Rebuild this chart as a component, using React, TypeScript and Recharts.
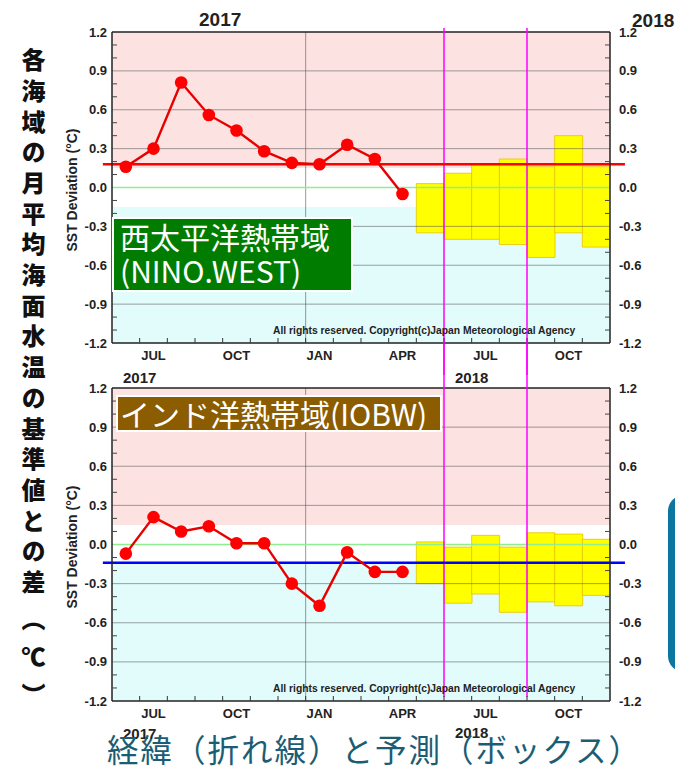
import React from 'react';
import { ComposedChart, Bar, Line, XAxis, YAxis, ReferenceLine, ReferenceArea } from 'recharts';

// month slots on the x axis: Jun 2017 .. Nov 2018
const months = ['JUN', 'JUL', 'AUG', 'SEP', 'OCT', 'NOV', 'DEC', 'JAN', 'FEB', 'MAR', 'APR', 'MAY', 'JUN', 'JUL', 'AUG', 'SEP', 'OCT', 'NOV'];
const labelledMonths = ['JUL', 'OCT', 'JAN', 'APR'];
const yMajor = [-1.2, -0.9, -0.6, -0.3, 0, 0.3, 0.6, 0.9, 1.2];
const yMinor = [-1.1, -1.0, -0.8, -0.7, -0.5, -0.4, -0.2, -0.1, 0.1, 0.2, 0.4, 0.5, 0.7, 0.8, 1.0, 1.1];
const gridY = [-0.9, -0.6, -0.3, 0.3, 0.6, 0.9];

// NINO.WEST observed (Jun 2017 - Apr 2018) and forecast boxes (May - Nov 2018)
const westObs = [0.16, 0.30, 0.81, 0.56, 0.44, 0.28, 0.19, 0.18, 0.33, 0.22, -0.05];
const westHigh = [0.03, 0.11, 0.18, 0.22, 0.16, 0.40, 0.16];
const westLow = [-0.35, -0.40, -0.40, -0.44, -0.54, -0.35, -0.46];
const westNormal = 0.18;

// IOBW
const iobwObs = [-0.07, 0.21, 0.10, 0.14, 0.01, 0.01, -0.30, -0.47, -0.06, -0.21, -0.21];
const iobwHigh = [0.02, -0.02, 0.07, -0.02, 0.09, 0.08, 0.04];
const iobwLow = [-0.30, -0.45, -0.38, -0.52, -0.44, -0.47, -0.39];
const iobwNormal = -0.14;

const firstForecast = 11; // MAY 2018
const forecastMarks = [12, 15]; // month boundaries with magenta lines
const band = 0.15; // normal band limits

const xTicks = Array.from({ length: months.length * 2 + 1 }, (_, k) => k / 2);
const yTicks = [...yMajor, ...yMinor];

const buildRows = (obs: number[], low: number[], high: number[]) =>
  months.map((m, i) => ({
    x: i + 0.5,
    obs: i < obs.length ? obs[i] : null,
    box: i >= firstForecast ? [low[i - firstForecast], high[i - firstForecast]] : null,
  }));

const AX = '"Liberation Sans", Arial, sans-serif';
const JP = '"Noto Sans CJK JP", "Noto Sans", sans-serif';

const isMajor = (v: number) => Math.abs(Math.round(v * 10)) % 3 === 0;

const XTick = ({ x, y, payload }: any) => {
  const v = payload.value;
  if (Number.isInteger(v)) {
    if (v === 0 || v === months.length) return <g />;
    return <line x1={x} x2={x} y1={y} y2={y - 5} stroke="#333" strokeWidth={1} />;
  }
  const name = months[Math.floor(v)];
  if (!labelledMonths.includes(name)) return <g />;
  return (
    <text x={x} y={y + 17} textAnchor="middle" fontSize={13} fontWeight="bold" fill="#222" fontFamily={AX}>
      {name}
    </text>
  );
};

const LeftTick = ({ x, y, payload }: any) => {
  const v = payload.value;
  if (isMajor(v))
    return (
      <text x={x - 5} y={y + 4.5} textAnchor="end" fontSize={13} fontWeight="bold" fill="#222" fontFamily={AX}>
        {v.toFixed(1)}
      </text>
    );
  return <line x1={x} x2={x + 5} y1={y} y2={y} stroke="#444" />;
};

const RightTick = ({ x, y, payload }: any) => {
  const v = payload.value;
  if (isMajor(v))
    return (
      <text x={x + 9} y={y + 4.5} textAnchor="start" fontSize={13} fontWeight="bold" fill="#222" fontFamily={AX}>
        {v.toFixed(1)}
      </text>
    );
  return <line x1={x} x2={x - 5} y1={y} y2={y} stroke="#444" />;
};

function Panel({ rows, normal, normalColor, top, height, mt, mb, magTop, magBottom }: any) {
  return (
    <div style={{ position: 'absolute', left: 0, top }}>
      <ComposedChart
        width={675}
        height={height}
        data={rows}
        margin={{ top: mt, right: 25, bottom: mb, left: 72 }}
        barCategoryGap={0}
        barGap={0}
      >
        <XAxis
          dataKey="x"
          type="number"
          domain={[0, months.length]}
          ticks={xTicks}
          interval={0}
          tick={<XTick />}
          tickLine={false}
          tickSize={0}
          tickMargin={0}
          height={25}
          axisLine={{ stroke: '#222', strokeWidth: 1.5 }}
          allowDataOverflow
        />
        <YAxis
          type="number"
          domain={[-1.2, 1.2]}
          ticks={yTicks}
          interval={0}
          tick={<LeftTick />}
          tickLine={false}
          tickSize={0}
          tickMargin={0}
          width={40}
          axisLine={{ stroke: '#222', strokeWidth: 1.5 }}
          allowDataOverflow
        />
        <YAxis
          yAxisId="r"
          orientation="right"
          type="number"
          domain={[-1.2, 1.2]}
          ticks={yTicks}
          interval={0}
          tick={<RightTick />}
          tickLine={false}
          tickSize={0}
          tickMargin={0}
          width={40}
          axisLine={{ stroke: '#222', strokeWidth: 1.5 }}
          allowDataOverflow
        />
        <ReferenceArea y1={band} y2={1.2} fill="#fde2e2" fillOpacity={1} stroke="none" ifOverflow="hidden" />
        <ReferenceArea y1={-1.2} y2={-band} fill="#e2fbfb" fillOpacity={1} stroke="none" ifOverflow="hidden" />
        <Bar dataKey="box" fill="#ffff00" stroke="#e6c200" strokeWidth={0.8} isAnimationActive={false} />
        {gridY.map((g) => (
          <ReferenceLine key={g} y={g} stroke="#555" strokeOpacity={0.55} strokeWidth={1} />
        ))}
        <ReferenceLine x={months.indexOf('JAN')} stroke="#555" strokeOpacity={0.6} strokeWidth={1} />
        <ReferenceLine y={0} stroke="#8fee8f" strokeWidth={1.5} />
        <ReferenceLine y={1.2} stroke="#222" strokeWidth={1.5} />
        {forecastMarks.map((m) => (
          <ReferenceLine
            key={m}
            segment={[
              { x: m, y: magTop },
              { x: m, y: magBottom },
            ]}
            stroke="#ff00ff"
            strokeWidth={1.5}
            ifOverflow="visible"
          />
        ))}
        <ReferenceLine
          segment={[
            { x: -0.33, y: normal },
            { x: months.length + 0.54, y: normal },
          ]}
          stroke={normalColor}
          strokeWidth={2.4}
          ifOverflow="visible"
        />
        <Line
          dataKey="obs"
          stroke="#e80000"
          strokeWidth={2.4}
          dot={{ r: 6.3, fill: '#ff0000', stroke: 'none' }}
          isAnimationActive={false}
          connectNulls={false}
        />
      </ComposedChart>
    </div>
  );
}

const abs = (left: number, top: number, extra: React.CSSProperties = {}): React.CSSProperties => ({
  position: 'absolute',
  left,
  top,
  whiteSpace: 'nowrap',
  ...extra,
});

const yearStyle = (size: number): React.CSSProperties => ({
  fontFamily: AX,
  fontWeight: 'bold',
  fontSize: size,
  color: '#222',
  lineHeight: 1,
});

const copyStyle: React.CSSProperties = {
  fontFamily: AX,
  fontWeight: 'bold',
  fontSize: 10.3,
  color: '#222',
  lineHeight: 1,
};

export default function App() {
  const westRows = buildRows(westObs, westLow, westHigh);
  const iobwRows = buildRows(iobwObs, iobwLow, iobwHigh);
  return (
    <div style={{ position: 'absolute', left: 0, top: 0, width: 675, height: 771, background: '#fff', overflow: 'hidden' }}>
      <Panel rows={westRows} normal={westNormal} normalColor="#ff0000" top={0} height={375} mt={32} mb={7} magTop={1.231} magBottom={-1.45} />
      <Panel rows={iobwRows} normal={iobwNormal} normalColor="#0000ff" top={340} height={431} mt={48} mb={45} magTop={1.57} magBottom={-1.17} />

      {/* year labels */}
      <div style={abs(199, 10, yearStyle(19))}>2017</div>
      <div style={abs(632, 11, yearStyle(19))}>2018</div>
      <div style={abs(123, 370, yearStyle(15))}>2017</div>
      <div style={abs(455, 370, yearStyle(15))}>2018</div>
      <div style={abs(123, 726, yearStyle(15))}>2017</div>
      <div style={abs(455, 725, yearStyle(15))}>2018</div>

      {/* copyright */}
      <div style={abs(273, 326, copyStyle)}>All rights reserved. Copyright(c)Japan Meteorological Agency</div>
      <div style={abs(273, 684, copyStyle)}>All rights reserved. Copyright(c)Japan Meteorological Agency</div>

      {/* axis titles */}
      <div style={abs(72, 190, { ...yearStyle(14), transform: 'translate(-50%, -50%) rotate(-90deg)' })}>SST Deviation (°C)</div>
      <div style={abs(72, 547, { ...yearStyle(14), transform: 'translate(-50%, -50%) rotate(-90deg)' })}>SST Deviation (°C)</div>

      {/* region labels */}
      <div
        style={abs(112, 217, {
          width: 231,
          height: 71,
          background: '#007d00',
          border: '2px solid #fff',
          color: '#fff',
          fontFamily: JP,
          fontSize: 30,
          lineHeight: '34px',
          paddingLeft: 6,
          boxSizing: 'content-box',
        })}
      >
        西太平洋熱帯域
        <br />
        (NINO.WEST)
      </div>
      <div
        style={abs(116, 395, {
          width: 320,
          height: 33,
          background: '#8b5c00',
          border: '2px solid #fff',
          color: '#fff',
          fontFamily: JP,
          fontSize: 30,
          lineHeight: '33px',
          paddingLeft: 2,
          boxSizing: 'content-box',
        })}
      >
        インド洋熱帯域(IOBW)
      </div>

      {/* vertical title */}
      <div
        style={abs(20, 48, {
          writingMode: 'vertical-rl',
          fontFamily: JP,
          fontWeight: 900,
          fontSize: 24,
          lineHeight: '26px',
          letterSpacing: '6.7px',
          color: '#111',
        })}
      >
        各海域の月平均海面水温の基準値との差
        <span style={{ paddingTop: 6, letterSpacing: '14px' }}>（℃）</span>
      </div>

      {/* caption */}
      <div style={abs(107, 733, { fontFamily: JP, fontSize: 31.5, lineHeight: 1, letterSpacing: '2px', color: '#1b5d74' })}>
        経緯（折れ線）と予測（ボックス）
      </div>

      {/* right-edge panel */}
      <div style={abs(668, 495, { width: 40, height: 177, background: '#0b77a1', borderRadius: 16 })} />
    </div>
  );
}
